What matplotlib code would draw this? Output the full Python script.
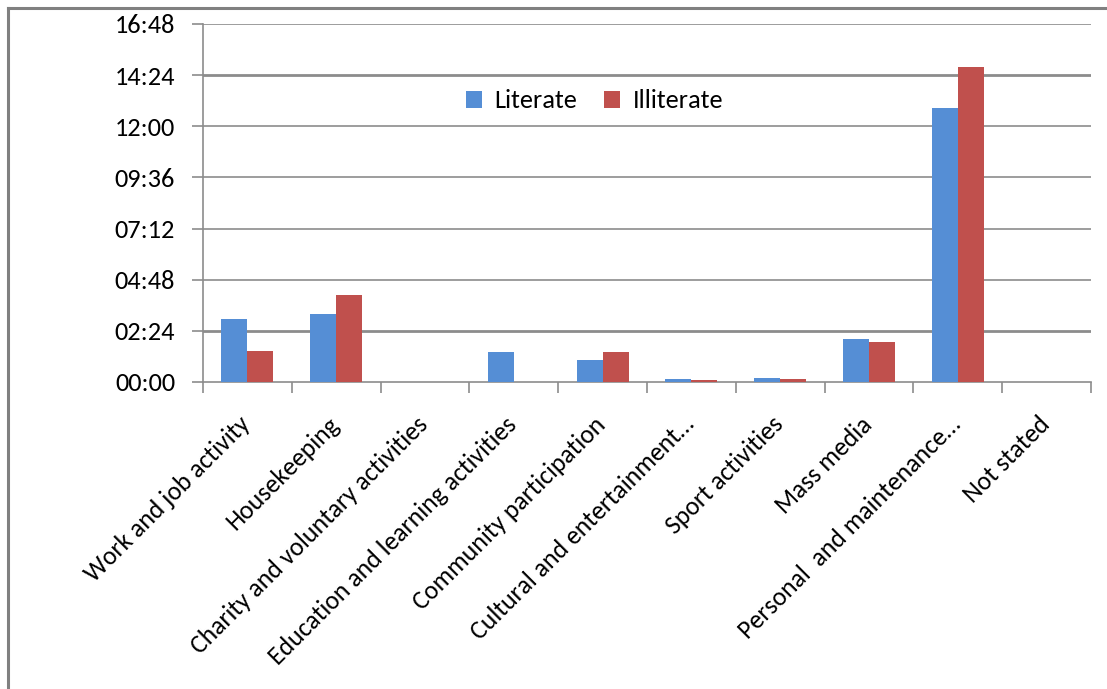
import matplotlib
matplotlib.use('Agg')
import matplotlib.pyplot as plt
from matplotlib.ticker import FuncFormatter, MultipleLocator
from matplotlib.transforms import ScaledTranslation
from matplotlib.lines import Line2D
import numpy as np

# activity categories and average time spent (minutes per day)
categories = ['Work and job activity', 'Housekeeping', 'Charity and voluntary activities',
              'Education and learning activities', 'Community participation',
              'Cultural and entertainment\u2026', 'Sport activities', 'Mass media',
              'Personal  and maintenance\u2026', 'Not stated']
literate = [178, 192, 0, 85, 62, 8, 11, 121, 771, 0]
illiterate = [87, 245, 0, 0, 85, 6, 8, 113, 887, 0]

blue = '#558ED5'
red = '#C0504D'
grid_col = '#8C8C8C'

plt.rcParams['font.family'] = ['Carlito', 'Lato', 'DejaVu Sans']

fig = plt.figure(figsize=(11.07, 6.89), dpi=100)
ax = fig.add_axes([0.1834, 0.4456, 0.8022, 0.5196])

x = np.arange(len(categories))
w = 0.293
ax.bar(x - w / 2, literate, w, color=blue, label='Literate', zorder=3)
ax.bar(x + w / 2, illiterate, w, color=red, label='Illiterate', zorder=3)

ax.set_xlim(-0.5, len(categories) - 0.5)
ax.set_ylim(0, 1008)
ax.yaxis.set_major_locator(MultipleLocator(144))


def hhmm(v, pos):
    v = int(round(v))
    return '%02d:%02d' % (v // 60, v % 60)


ax.yaxis.set_major_formatter(FuncFormatter(hhmm))
for yv in range(144, 1009, 144):
    lw = 2.0 if yv in (144, 864) else 1.2
    ax.axhline(yv, color=grid_col, lw=lw, zorder=1)

for s in ['top', 'right']:
    ax.spines[s].set_visible(False)
for s in ['left', 'bottom']:
    ax.spines[s].set_color(grid_col)
    ax.spines[s].set_linewidth(1.2)

ax.tick_params(axis='y', length=8, width=1.2, color=grid_col, labelsize=19, pad=12)
# category boundary ticks
ax.set_xticks(np.arange(-0.5, len(categories), 1.0), minor=False)
ax.set_xticklabels([])
ax.tick_params(axis='x', which='major', length=8, width=1.2, color=grid_col)
ax.set_xticks(x, minor=True)
ax.set_xticklabels(categories, minor=True, rotation=45, ha='right', rotation_mode='anchor',
                   fontsize=18.5)
ax.tick_params(axis='x', which='minor', length=0, pad=22)
shift = ScaledTranslation(-9 / 100, 0, fig.dpi_scale_trans)
for lab in ax.get_xticklabels(minor=True):
    lab.set_transform(lab.get_transform() + shift)

ax.legend(loc='center', bbox_to_anchor=(0.441, 0.785), ncol=2, frameon=False, fontsize=19,
          handlelength=0.6, handleheight=0.6, handletextpad=0.5, columnspacing=1.0)

# outer chart border (top and left edges visible)
fig.add_artist(Line2D([8 / 1107, 1], [1 - 7.5 / 689, 1 - 7.5 / 689], transform=fig.transFigure,
                      color='#808080', lw=2.2))
fig.add_artist(Line2D([8 / 1107, 8 / 1107], [0, 1 - 7.5 / 689], transform=fig.transFigure,
                      color='#808080', lw=2.2))

fig.savefig('out.png', dpi=100)
